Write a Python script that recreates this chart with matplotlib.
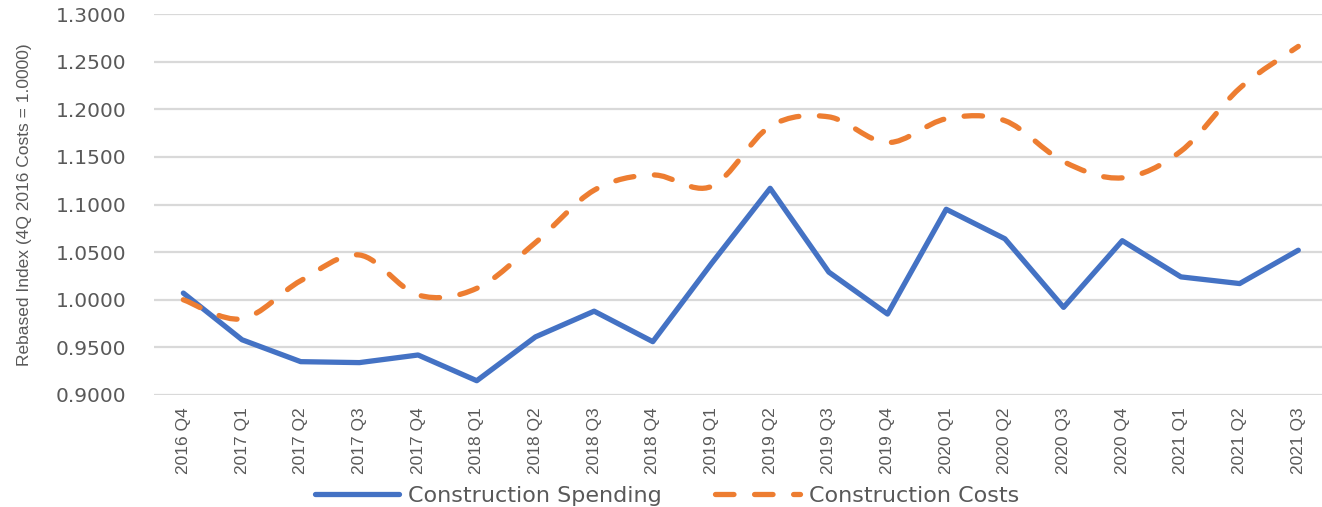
import numpy as np
import matplotlib.pyplot as plt
from matplotlib.path import Path
from matplotlib.patches import PathPatch
from matplotlib.lines import Line2D

quarters = ["2016 Q4", "2017 Q1", "2017 Q2", "2017 Q3", "2017 Q4",
            "2018 Q1", "2018 Q2", "2018 Q3", "2018 Q4",
            "2019 Q1", "2019 Q2", "2019 Q3", "2019 Q4",
            "2020 Q1", "2020 Q2", "2020 Q3", "2020 Q4",
            "2021 Q1", "2021 Q2", "2021 Q3"]
spending = [1.007, 0.958, 0.935, 0.934, 0.942, 0.915, 0.961, 0.988, 0.956,
            1.038, 1.117, 1.029, 0.985, 1.095, 1.064, 0.992, 1.062,
            1.024, 1.017, 1.052]
costs = [1.000, 0.980, 1.020, 1.047, 1.005, 1.012, 1.060, 1.115, 1.131,
         1.119, 1.182, 1.192, 1.165, 1.190, 1.188, 1.145, 1.128,
         1.156, 1.222, 1.266]
yticks = [0.90, 0.95, 1.00, 1.05, 1.10, 1.15, 1.20, 1.25, 1.30]

BLUE = "#4472C4"
ORANGE = "#ED7D31"
GRID = "#D9D9D9"
TXT = "#595959"
NARROW = ["Liberation Sans", "DejaVu Sans"]

fig = plt.figure(figsize=(13.22, 5.07), dpi=100)
ax = fig.add_axes([154 / 1322, 1 - 395 / 507, 1 - 154 / 1322, (395 - 14) / 507])

x = np.arange(len(quarters))

# smoothed line like excel, drawn as bezier segments through the points
def smooth_path(xs, ys):
    pts = np.column_stack([xs, ys])
    verts = [pts[0]]
    codes = [Path.MOVETO]
    n = len(pts)
    for i in range(n - 1):
        p0 = pts[i - 1] if i > 0 else pts[i]
        p1 = pts[i]
        p2 = pts[i + 1]
        p3 = pts[i + 2] if i + 2 < n else pts[i + 1]
        c1 = p1 + (p2 - p0) / 6.0
        c2 = p2 - (p3 - p1) / 6.0
        verts += [c1, c2, p2]
        codes += [Path.CURVE4] * 3
    return Path(verts, codes)

ax.plot(x, spending, color=BLUE, lw=3.8, solid_capstyle="round", zorder=3)
dash = (0, (3.5, 3.9))
patch = PathPatch(smooth_path(x, costs), fill=False, edgecolor=ORANGE, lw=3.8,
                  linestyle=dash, capstyle="round", zorder=3)
ax.add_patch(patch)

ax.set_xlim(-0.5, (1322 - 183) / 58.7)
ax.set_ylim(0.9, 1.3)
ax.set_yticks(yticks)
ax.set_yticklabels(["%.4f" % v for v in yticks], fontsize=14.5, color=TXT)
ax.set_xticks(x)
ax.set_xticklabels(quarters, rotation=90, fontsize=12.5, color=TXT, family=NARROW)
ax.tick_params(axis="y", length=0, pad=20)
ax.tick_params(axis="x", length=0, pad=9)
ax.grid(axis="y", color=GRID, lw=1.6)
ax.set_axisbelow(True)
for s in ax.spines.values():
    s.set_visible(False)

fig.text(25 / 1322, 1 - 205 / 507, "Rebased Index (4Q 2016 Costs = 1.0000)",
         rotation=90, ha="center", va="center", fontsize=12.5, color=TXT,
         family=NARROW)

handles = [Line2D([], [], color=BLUE, lw=3.8, solid_capstyle="round"),
           Line2D([], [], color=ORANGE, lw=3.8, linestyle=dash,
                  dash_capstyle="round")]
fig.legend(handles, ["Construction Spending", "Construction Costs"],
           loc="center", bbox_to_anchor=(667 / 1322, 1 - 496 / 507),
           ncol=2, frameon=False, fontsize=16, handlelength=3.8,
           handletextpad=0.4, columnspacing=2.4, labelcolor=TXT)

fig.savefig("out.png", dpi=100)
